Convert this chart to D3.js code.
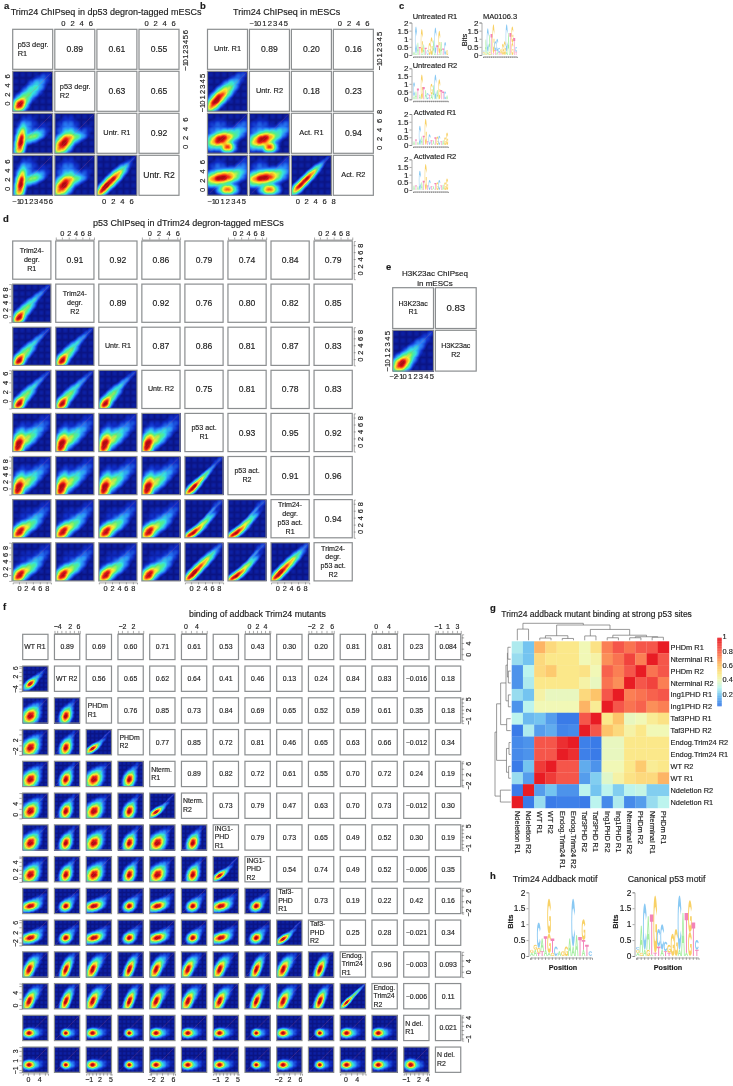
<!DOCTYPE html>
<html lang="en">
  <head>
    <meta charset="UTF-8" />
    <title>Trim24 ChIPseq figure</title>
    <style>
      html,
      body {
        margin: 0;
        background: #fff;
      }

      #wrap {
        position: relative;
        width: 733px;
        height: 1086px;
        overflow: hidden;
      }

      canvas,
      svg {
        position: absolute;
        left: 0;
        top: 0;
      }

      text {
        font-family: "Liberation Sans", Arial, sans-serif;
        fill: #1a1a1a;
        stroke: #1a1a1a;
        stroke-width: 0.15;
      }

      .frame {
        fill: none;
        stroke: #8b8e90;
        stroke-width: 1.2;
      }

      .axis path,
      .axis line {
        stroke: #555;
        stroke-width: 0.5;
      }
    </style>
    <script src="https://cdn.jsdelivr.net/npm/d3@7"></script>
  </head>
  <body>
    <div id="wrap">
      <canvas id="dens" width="733" height="1086"></canvas>
      <svg id="fig" width="733" height="1086"></svg>
    </div>
    <script>
      // ---- panel a ----
      const aLabels = ["p53 degr.\nR1", "p53 degr.\nR2", "Untr. R1", "Untr. R2"];
      const aValues = [["0.89", "0.61", "0.55"], ["0.63", "0.65"], ["0.92"]];
      const aTicks = [[-1, 0, 1, 2, 3, 4, 5, 6], [0, 2, 4, 6], [0, 2, 4, 6], [0, 2, 4, 6]];
      const aDomains = [[-1.7, 6.5], [-1.8, 7], [-1.5, 7.3], [-1.55, 7.3]];

      // ---- panel b ----
      const bLabels = ["Untr. R1", "Untr. R2", "Act. R1", "Act. R2"];
      const bValues = [["0.89", "0.20", "0.16"], ["0.18", "0.23"], ["0.94"]];
      const bTicks = [[-1, 0, 1, 2, 3, 4, 5], [-1, 0, 1, 2, 3, 4, 5], [0, 2, 4, 6, 8], [0, 2, 4, 6]];
      const bDomains = [[-1.7, 5.75], [-1.7, 5.75], [-1.3, 7.6], [-1.3, 7.4]];

      // ---- panel d ----
      const dLabels = [
        "Trim24-\ndegr.\nR1", "Trim24-\ndegr.\nR2", "Untr. R1", "Untr. R2",
        "p53 act.\nR1", "p53 act.\nR2", "Trim24-\ndegr.\np53 act.\nR1", "Trim24-\ndegr.\np53 act.\nR2",
      ];
      const dValues = [
        ["0.91", "0.92", "0.86", "0.79", "0.74", "0.84", "0.79"],
        ["0.89", "0.92", "0.76", "0.80", "0.82", "0.85"],
        ["0.87", "0.86", "0.81", "0.87", "0.83"],
        ["0.75", "0.81", "0.78", "0.83"],
        ["0.93", "0.95", "0.92"],
        ["0.91", "0.96"],
        ["0.94"],
      ];
      const dTicks = [[0, 2, 4, 6, 8], [0, 2, 4, 6, 8], [0, 2, 4, 6, 8], [0, 2, 4, 6], [0, 2, 4, 6, 8], [0, 2, 4, 6, 8], [0, 2, 4, 6, 8], [0, 2, 4, 6, 8]];
      const dDomains = [[-1.8, 9.2], [-1.8, 9.4], [-1.8, 9.2], [-1.6, 6.6], [-1.8, 9.2], [-1.8, 9.2], [-1.8, 9.2], [-1.7, 9.4]];

      // ---- panel e ----
      const eLabels = ["H3K23ac\nR1", "H3K23ac\nR2"];
      const eValues = [["0.83"]];
      const eTicks = [[-2, -1, 0, 1, 2, 3, 4, 5], [-1, 0, 1, 2, 3, 4, 5]];
      const eDomains = [[-2.1, 5.4], [-1.8, 5.4]];

      // ---- panel f ----
      const fLabels = [
        "WT R1", "WT R2", "PHDm\nR1", "PHDm\nR2", "Nterm.\nR1", "Nterm.\nR2", "ING1-\nPHD\nR1",
        "ING1-\nPHD\nR2", "Taf3-\nPHD\nR1", "Taf3-\nPHD\nR2", "Endog.\nTrim24\nR1", "Endog.\nTrim24\nR2", "N del.\nR1", "N del.\nR2",
      ];
      const fValues = [
        ["0.89", "0.69", "0.60", "0.71", "0.61", "0.53", "0.43", "0.30", "0.20", "0.81", "0.81", "0.23", "0.084"],
        ["0.56", "0.65", "0.62", "0.64", "0.41", "0.46", "0.13", "0.24", "0.84", "0.83", "−0.016", "0.18"],
        ["0.76", "0.85", "0.73", "0.84", "0.69", "0.65", "0.52", "0.59", "0.61", "0.35", "0.18"],
        ["0.77", "0.85", "0.72", "0.81", "0.46", "0.65", "0.63", "0.66", "−0.012", "0.34"],
        ["0.89", "0.82", "0.72", "0.61", "0.55", "0.70", "0.72", "0.24", "0.19"],
        ["0.73", "0.79", "0.47", "0.63", "0.70", "0.73", "−0.012", "0.30"],
        ["0.79", "0.73", "0.65", "0.49", "0.52", "0.30", "0.19"],
        ["0.54", "0.74", "0.49", "0.52", "−0.006", "0.35"],
        ["0.73", "0.19", "0.22", "0.42", "0.16"],
        ["0.25", "0.28", "−0.021", "0.34"],
        ["0.96", "−0.003", "0.093"],
        ["−0.006", "0.11"],
        ["0.021"],
      ];
      const fTicks = [
        [0, 2, 4, 6], [-4, -2, 0, 2, 4, 6], [-1, 0, 1, 2, 3, 4, 5], [-2, 0, 2, 4], [-2, 0, 2, 4, 6], [0, 2, 4, 6],
        [-1, 0, 1, 2, 3, 4, 5], [0, 1, 2, 3, 4, 5], [-2, 0, 2, 4, 6], [-2, 0, 2, 4, 6], [0, 2, 4, 6], [0, 2, 4, 6],
        [-1, 0, 1, 2, 3, 4], [-1, 0, 1, 2, 3],
      ];
      const fTickText = [[0, 4], [-4, 2, 6], [-1, 2, 5], [-2, 2], [-2, 2, 6], [0, 4], [-1, 2, 5], [0, 2, 4], [-2, 2, 6], [-2, 2, 6], [0, 4], [0, 4], [-1, 2, 4], [-1, 1, 3]];
      const fDomains = [
        [-1.9, 7.1], [-5.3, 6.8], [-1.7, 5.3], [-3.45, 5.75], [-2.5, 6.7], [-1.45, 7.75], [-1.7, 5.3],
        [-1, 5.3], [-2.5, 6.7], [-3.1, 6.85], [-1.9, 7.1], [-1.2, 6.8], [-1.5, 4.5], [-1.5, 3.8],
      ];

      // density clouds: [u, v, long sd, short sd, angle, weight]
      const shapes = {
        aRep: [[0.18, 0.17, 0.05, 0.035, 50, 1], [0.32, 0.35, 0.1, 0.05, 45, 0.12], [0.55, 0.58, 0.1, 0.06, 45, 0.05], [0.72, 0.76, 0.1, 0.05, 45, 0.006]],
        aX1: [[0.2, 0.28, 0.09, 0.028, 80, 1], [0.5, 0.42, 0.09, 0.04, 20, 0.15], [0.32, 0.6, 0.12, 0.08, 60, 0.012], [0.7, 0.6, 0.12, 0.06, 30, 0.002]],
        aX2: [[0.22, 0.25, 0.08, 0.042, 50, 1], [0.42, 0.38, 0.1, 0.04, 15, 0.15], [0.3, 0.58, 0.12, 0.09, 70, 0.012], [0.7, 0.55, 0.12, 0.05, 30, 0.002]],
        aDiag: [[0.18, 0.18, 0.07, 0.024, 50, 0.9], [0.38, 0.38, 0.1, 0.028, 45, 0.8], [0.6, 0.6, 0.1, 0.025, 45, 0.03], [0.8, 0.82, 0.1, 0.02, 45, 0.002]],
        bRep: [[0.2, 0.25, 0.08, 0.032, 50, 0.9], [0.35, 0.4, 0.1, 0.04, 45, 0.4], [0.55, 0.6, 0.1, 0.05, 45, 0.05], [0.75, 0.8, 0.12, 0.05, 45, 0.005]],
        bX1: [[0.33, 0.35, 0.08, 0.042, 20, 1], [0.5, 0.16, 0.04, 0.03, 0, 0.7], [0.6, 0.42, 0.14, 0.05, 30, 0.08], [0.8, 0.65, 0.12, 0.05, 40, 0.006], [0.25, 0.55, 0.12, 0.1, 60, 0.008]],
        bX2: [[0.35, 0.44, 0.1, 0.04, 10, 1], [0.5, 0.15, 0.05, 0.03, 0, 0.6], [0.65, 0.5, 0.12, 0.05, 30, 0.08], [0.85, 0.75, 0.1, 0.05, 45, 0.004], [0.25, 0.65, 0.1, 0.08, 60, 0.006]],
        bDiag: [[0.17, 0.2, 0.05, 0.024, 45, 0.5], [0.35, 0.38, 0.1, 0.022, 45, 0.9], [0.55, 0.58, 0.1, 0.024, 45, 0.08], [0.78, 0.82, 0.12, 0.02, 45, 0.003]],
        dRep: [[0.17, 0.13, 0.05, 0.03, 55, 1], [0.33, 0.33, 0.1, 0.04, 47, 0.16], [0.55, 0.58, 0.12, 0.03, 45, 0.03], [0.8, 0.82, 0.12, 0.03, 45, 0.003]],
        dAct: [[0.15, 0.18, 0.08, 0.036, 75, 1], [0.32, 0.3, 0.11, 0.05, 35, 0.22], [0.55, 0.5, 0.15, 0.06, 35, 0.025], [0.3, 0.55, 0.14, 0.11, 50, 0.0015], [0.8, 0.8, 0.12, 0.07, 40, 0.0015]],
        dFlat: [[0.18, 0.15, 0.06, 0.036, 50, 0.9], [0.35, 0.28, 0.11, 0.045, 30, 0.2], [0.58, 0.5, 0.15, 0.05, 38, 0.02], [0.35, 0.55, 0.15, 0.11, 50, 0.0012], [0.8, 0.8, 0.12, 0.06, 40, 0.0015]],
        dT1: [[0.2, 0.17, 0.07, 0.022, 45, 1], [0.38, 0.36, 0.1, 0.02, 45, 0.3], [0.6, 0.6, 0.1, 0.02, 45, 0.02], [0.85, 0.87, 0.1, 0.03, 45, 0.003]],
        dT2: [[0.2, 0.12, 0.08, 0.022, 35, 0.9], [0.42, 0.32, 0.12, 0.024, 42, 0.25], [0.62, 0.6, 0.12, 0.02, 50, 0.02], [0.85, 0.87, 0.1, 0.04, 45, 0.003]],
        dT3: [[0.2, 0.17, 0.08, 0.024, 45, 0.9], [0.4, 0.38, 0.12, 0.025, 45, 0.5], [0.62, 0.62, 0.12, 0.02, 45, 0.02], [0.85, 0.87, 0.1, 0.03, 45, 0.003]],
        e: [[0.22, 0.18, 0.06, 0.04, 40, 1], [0.38, 0.35, 0.1, 0.05, 45, 0.15], [0.6, 0.6, 0.12, 0.05, 45, 0.015], [0.85, 0.85, 0.12, 0.04, 45, 0.002]],
        R: [[0.3, 0.3, 0.06, 0.03, 40, 1], [0.5, 0.5, 0.12, 0.04, 40, 0.03], [0.75, 0.75, 0.1, 0.03, 40, 0.002]],
        W: [[0.3, 0.28, 0.08, 0.06, 50, 1], [0.45, 0.5, 0.12, 0.07, 55, 0.04], [0.7, 0.75, 0.1, 0.05, 50, 0.002]],
        N: [[0.45, 0.28, 0.07, 0.045, 70, 1], [0.55, 0.5, 0.11, 0.05, 65, 0.04], [0.72, 0.8, 0.1, 0.04, 60, 0.002]],
        F: [[0.25, 0.25, 0.07, 0.026, 35, 1], [0.5, 0.45, 0.12, 0.03, 40, 0.02], [0.8, 0.8, 0.1, 0.025, 42, 0.002]],
        T: [[0.3, 0.3, 0.08, 0.04, 15, 1], [0.5, 0.45, 0.12, 0.06, 30, 0.03], [0.75, 0.65, 0.1, 0.05, 30, 0.002]],
        Tn: [[0.45, 0.3, 0.05, 0.04, 30, 1], [0.55, 0.45, 0.11, 0.06, 35, 0.03], [0.78, 0.68, 0.1, 0.05, 35, 0.002]],
        E: [[0.25, 0.3, 0.09, 0.04, 65, 1], [0.42, 0.55, 0.12, 0.07, 55, 0.05], [0.65, 0.8, 0.1, 0.05, 45, 0.002]],
        En: [[0.45, 0.3, 0.09, 0.035, 68, 1], [0.55, 0.55, 0.12, 0.06, 60, 0.04], [0.72, 0.82, 0.1, 0.04, 55, 0.002]],
        D: [[0.25, 0.3, 0.05, 0.035, 5, 1], [0.4, 0.3, 0.1, 0.06, 5, 0.05], [0.6, 0.35, 0.14, 0.08, 5, 0.002]],
        Dn: [[0.45, 0.3, 0.035, 0.03, 0, 1], [0.55, 0.3, 0.09, 0.06, 0, 0.03], [0.7, 0.35, 0.12, 0.07, 0, 0.002]],
        S: [[0.25, 0.25, 0.07, 0.02, 45, 1], [0.5, 0.5, 0.15, 0.02, 45, 0.15], [0.8, 0.8, 0.12, 0.015, 45, 0.003]],
        O: [[0.28, 0.3, 0.05, 0.04, 0, 1], [0.45, 0.3, 0.12, 0.07, 0, 0.02]],
      };

      // which cloud sits in which lower panel, row by row
      const aCells = [["aRep"], ["aX1", "aX2"], ["aX1", "aX2", "aDiag"]];
      const bCells = [["bRep"], ["bX1", "bX1"], ["bX2", "bX2", "bDiag"]];
      const dCells = [
        ["dRep"],
        ["dRep", "dRep"],
        ["dRep", "dRep", "dRep"],
        ["dAct", "dAct", "dAct", "dAct"],
        ["dAct", "dAct", "dAct", "dAct", "dT1"],
        ["dFlat", "dFlat", "dFlat", "dFlat", "dT2", "dT2"],
        ["dFlat", "dFlat", "dFlat", "dFlat", "dT3", "dT2", "dT3"],
      ];
      const eCells = [["e"]];
      const fCells = [
        ["R"],
        ["W", "N"],
        ["W", "N", "F"],
        ["W", "N", "W", "N"],
        ["W", "N", "W", "N", "F"],
        ["W", "N", "W", "N", "W", "N"],
        ["W", "N", "W", "N", "W", "N", "F"],
        ["T", "Tn", "T", "Tn", "T", "Tn", "T", "Tn"],
        ["T", "Tn", "T", "Tn", "T", "Tn", "T", "Tn", "F"],
        ["E", "En", "E", "En", "E", "E", "E", "En", "E", "En"],
        ["E", "En", "E", "En", "E", "E", "E", "En", "E", "En", "S"],
        ["D", "Dn", "D", "Dn", "D", "D", "D", "Dn", "D", "Dn", "D", "D"],
        ["D", "Dn", "D", "Dn", "D", "D", "D", "Dn", "D", "Dn", "D", "D", "O"],
      ];

      // ---- panel g ----
      const gRows = [
        "PHDm R1", "Nterminal R1", "PHDm R2", "Nterminal R2", "Ing1PHD R1", "Ing1PHD R2", "Taf3PHD R1",
        "Taf3PHD R2", "Endog.Trim24 R2", "Endog.Trim24 R1", "WT R2", "WT R1", "Ndeletion R2", "Ndeletion R1",
      ];
      const gCols = gRows.slice().reverse();
      const gMatrix = [
        [0.28, 0.2, 0.65, 0.55, 0.5, 0.5, 0.42, 0.52, 0.75, 0.85, 0.78, 0.85, 0.85, 1],
        [0.25, 0.2, 0.55, 0.5, 0.5, 0.5, 0.42, 0.45, 0.72, 0.78, 0.9, 0.75, 1, 0.85],
        [0.1, 0.3, 0.55, 0.6, 0.5, 0.5, 0.52, 0.42, 0.82, 0.75, 0.85, 1, 0.78, 0.85],
        [0.1, 0.28, 0.5, 0.5, 0.5, 0.5, 0.45, 0.4, 0.78, 0.72, 1, 0.85, 0.9, 0.75],
        [0.25, 0.2, 0.45, 0.4, 0.4, 0.4, 0.55, 0.62, 0.85, 1, 0.75, 0.78, 0.82, 0.85],
        [0.1, 0.3, 0.42, 0.42, 0.42, 0.42, 0.65, 0.48, 1, 0.85, 0.78, 0.82, 0.72, 0.75],
        [0.3, 0.18, 0.2, 0.12, 0.05, 0.05, 0.85, 1, 0.5, 0.62, 0.4, 0.42, 0.48, 0.52],
        [0.05, 0.28, 0.12, 0.15, 0.07, 0.08, 1, 0.85, 0.62, 0.55, 0.45, 0.5, 0.42, 0.42],
        [0.08, 0.1, 0.85, 0.85, 0.95, 1, 0.06, 0.05, 0.4, 0.4, 0.5, 0.5, 0.5, 0.5],
        [0.08, 0.1, 0.85, 0.85, 1, 0.95, 0.06, 0.05, 0.4, 0.4, 0.5, 0.5, 0.5, 0.5],
        [0.05, 0.2, 0.92, 1, 0.85, 0.85, 0.15, 0.1, 0.42, 0.42, 0.5, 0.6, 0.48, 0.5],
        [0.25, 0.12, 1, 0.92, 0.85, 0.85, 0.12, 0.22, 0.38, 0.45, 0.52, 0.55, 0.55, 0.65],
        [0.05, 1, 0.12, 0.2, 0.1, 0.1, 0.3, 0.2, 0.3, 0.22, 0.3, 0.32, 0.22, 0.22],
        [1, 0.05, 0.25, 0.05, 0.06, 0.06, 0.05, 0.3, 0.08, 0.28, 0.08, 0.12, 0.25, 0.3],
      ];
      const gBarTicks = [0.2, 0.4, 0.6, 0.8, 1];
      // merge tree over the column order: [height, left, right], leaves are column indexes
      const gTree = [16.7, [11, 0, 1], [15, [4.5, [2.2, 2, 3], [1.8, 4, 5]], [10.7, [4.3, 6, 7], [5, [2.5, 8, 9], [3.5, [2.5, 10, 11], [3, 12, 13]]]]]];

      // ---- motifs, one string per position, letter then bits from the bottom up ----
      const untreatedR1 = ["A.2", "A.1 C1.65", "A.75", "T.5", "A.1 G1.5", "A.65", "T.45", "C.3", "G.75", "G1.1", "A.9", "A.1 C1.6", "T.6", "A.1 G1.4", "A.8", "T.4", "C.8", "G.3"];
      const untreatedR2 = ["A.2 C.9", "A.5", "T.7", "A.3", "G1.6", "T.8", "A.6", "C.4", "T.3", "A.3 G.7", "A.9", "C1.6", "A.6", "G1.3", "T.6", "T.5", "C.5", "A.25"];
      const activatedR1 = ["A.25", "T.35", "A.2", "C1.25", "A.55", "T.6", "G1.7", "T.25", "C.7", "T.3", "A.3", "T.5", "G.55", "C.6", "T.25", "A.3", "G.5", "G.8"];
      const activatedR2 = ["A.3", "T.3", "A.25", "C1.25", "A.5", "T.6", "G1.7", "T.3", "C.65", "T.25", "A.25", "T.45", "G.5", "C.65", "T.3", "A.35", "G.5", "G.75"];
      const canonical = ["A.1 G.1 C.08", "G.1 A.85", "A.2 C1.45", "G.2 A1.05", "A.05 T1.25", "T.1 G1.8", "T.3 C.55", "A.2 C.8", "T.15 C.3", "T.1 G.25", "G.7", "G.85", "A.2 C1.7", "A1.35", "A.1 T1.25", "G.75 G1", "T1.05", "T.2 C.3"];
      const addback = ["A.1 G.1", "A.2 G.15", "T.1 G.15 C.8", "T.15 A.4", "A.2 T.42", "A.1 G.6 G1.1", "G.1 T.45", "C.3", "A.15", "G.15", "G.3", "A.55", "A.3 C1.5", "A.65", "T.6", "A.2 T.3 G.65", "T.35", "C.15"];
      const logoPositions = d3.range(1, 19);
      const bitTicks = [0, 0.5, 1, 1.5, 2];

      const svg = d3.select("#fig");
      const ctx = document.getElementById("dens").getContext("2d");

      // smoothScatter style colours on the fourth root of density
      const jet = d3
        .scaleLinear()
        .domain([0, 0.1, 0.25, 0.4, 0.55, 0.7, 0.82, 0.92, 1])
        .range(["#0a1484", "#0f2cc4", "#2a84fa", "#35e0e0", "#5cf07a", "#f5f032", "#ff9a1e", "#f02018", "#b00a10"])
        .clamp(true);

      function density(cloud, u, v) {
        let sum = 0;
        cloud.forEach(([cu, cv, sl, ss, angle, w]) => {
          const a = (angle * Math.PI) / 180;
          const du = u - cu;
          const dv = v - cv;
          const p = du * Math.cos(a) + dv * Math.sin(a);
          const q = -du * Math.sin(a) + dv * Math.cos(a);
          // strong parts of a cloud are wider than the thin tails
          const m = 1.2 + 0.6 * Math.min(1, w * 2);
          sum += w * Math.exp((-0.5 * (p * p / (sl * sl) + q * q / (ss * ss))) / (m * m));
        });
        return sum;
      }

      function drawCloud(cloud, x, y) {
        const [x0, x1] = x.range();
        const [y1, y0] = y.range();
        for (let px = Math.round(x0); px < x1; px++) {
          for (let py = Math.round(y0); py < y1; py++) {
            const u = (px + 0.5 - x0) / (x1 - x0);
            const v = (y1 - py - 0.5) / (y1 - y0);
            // faint bin lattice of the scatter background
            const lattice = 0.05 * Math.abs(Math.sin(Math.PI * u * 6) * Math.sin(Math.PI * v * 6));
            const t = (Math.pow(density(cloud, u, v), 0.25) - 0.12) / 0.88;
            ctx.fillStyle = jet(Math.max(t, 0) + lattice);
            ctx.fillRect(px, py, 1, 1);
          }
        }
      }

      function multiline(g, str, x, y, size, anchor) {
        const lines = str.split("\n");
        const lh = size * 1.24;
        const top = y - ((lines.length - 1) * lh) / 2;
        lines.forEach((line, i) => {
          g.append("text")
            .attr("x", x)
            .attr("y", top + i * lh)
            .attr("dy", "0.35em")
            .attr("text-anchor", anchor)
            .attr("font-size", size)
            .text(line);
        });
      }

      function pairs(o) {
        const n = o.labels.length;
        const g = svg.append("g");
        const px = d3.range(n).map((i) => o.x + i * o.stepX);
        const py = d3.range(n).map((i) => o.y + i * o.stepY);
        const fmt = (d) => String(d).replace("-", "−");

        d3.range(n).forEach((r) => {
          d3.range(n).forEach((c) => {
            const x = d3.scaleLinear().domain(o.domains[c]).range([px[c], px[c] + o.size]);
            const y = d3.scaleLinear().domain(o.domains[r]).range([py[r] + o.size, py[r]]);
            if (r > c) {
              drawCloud(shapes[o.cells[r - 1][c]], x, y);
              g.append("line")
                .attr("x1", x.range()[0] + o.size * 0.05)
                .attr("y1", y.range()[0] - o.size * 0.05)
                .attr("x2", x.range()[1])
                .attr("y2", y.range()[1])
                .attr("stroke", "#e0607a")
                .attr("stroke-width", 0.5)
                .attr("opacity", 0.4);
            } else if (r === c) {
              const anchor = o.labelAnchor(r);
              const tx = anchor === "start" ? px[c] + o.labelInset(r) : px[c] + o.size / 2;
              multiline(g, o.labels[r], tx, py[r] + o.size / 2 - 0.5, o.labelSize(r), anchor);
            } else {
              multiline(g, o.values[r][c - r - 1], px[c] + o.size / 2, py[r] + o.size / 2, o.valueSize, "middle");
            }
            g.append("rect")
              .attr("class", "frame")
              .attr("x", px[c])
              .attr("y", py[r])
              .attr("width", o.size)
              .attr("height", o.size);
          });
        });

        // axes alternate around the matrix the way pairs() does it
        const tf = (i) => (d) => (o.tickText && !o.tickText[i].includes(d) ? "" : fmt(d));
        d3.range(n).forEach((i) => {
          const x = d3.scaleLinear().domain(o.domains[i]).range([px[i], px[i] + o.size]);
          const y = d3.scaleLinear().domain(o.domains[i]).range([py[i] + o.size, py[i]]);
          const atLeft = i % 2 === 1;
          const horiz = atLeft ? d3.axisTop(x) : d3.axisBottom(x);
          const horizY = atLeft ? py[0] - o.gap : py[n - 1] + o.size + o.gap;
          const vert = atLeft ? d3.axisLeft(y) : d3.axisRight(y);
          const vertX = atLeft ? px[0] - o.gap : px[n - 1] + o.size + o.gap;
          const axes = [];

          // panel e only carries the bottom and left axes
          if (!o.bottomLeftOnly || !atLeft) {
            horiz.tickValues(o.ticks[i]).tickFormat(tf(i)).tickSize(o.tickSize).tickPadding(o.tickPad);
            const hg = g.append("g").attr("class", "axis").attr("transform", `translate(0,${horizY})`).call(horiz);
            hg.selectAll("text").attr("font-size", o.tickFont).attr("font-family", "Liberation Sans").style("fill", "#1a1a1a");
            axes.push(hg);
          }
          if (!o.bottomLeftOnly || atLeft) {
            vert.tickValues(o.ticks[i]).tickFormat(tf(i)).tickSize(o.tickSize).tickPadding(0);
            const vg = g.append("g").attr("class", "axis").attr("transform", `translate(${vertX},0)`).call(vert);
            vg.selectAll("text")
              .attr("font-size", o.tickFont)
              .attr("font-family", "Liberation Sans")
              .style("fill", "#1a1a1a")
              .attr("text-anchor", "middle")
              .attr("x", 0)
              .attr("dy", 0)
              .attr("y", atLeft ? -(o.tickSize + o.tickPad) : o.tickSize + o.tickPad + o.tickFont * 0.75)
              .attr("transform", "rotate(-90)");
            axes.push(vg);
          }
          if (!o.marks) axes.forEach((a) => a.selectAll("path,line").remove());
        });
      }

      const left = () => "start";
      const mid = () => "middle";

      pairs({
        x: 12.7, y: 29.3, stepX: 42.1, stepY: 42, size: 40, labels: aLabels, values: aValues, cells: aCells,
        ticks: aTicks, domains: aDomains, valueSize: 8.6, tickFont: 7.6, tickSize: 0, tickPad: 2.5, gap: 0.5, marks: false,
        labelAnchor: (i) => (i < 2 ? "start" : "middle"), labelInset: () => 5, labelSize: (i) => (i === 3 ? 8.6 : 7.4),
      });
      pairs({
        x: 207.5, y: 29.3, stepX: 41.95, stepY: 42, size: 40, labels: bLabels, values: bValues, cells: bCells,
        ticks: bTicks, domains: bDomains, valueSize: 8.6, tickFont: 7.6, tickSize: 0, tickPad: 2.5, gap: 0.5, marks: false,
        labelAnchor: mid, labelInset: () => 0, labelSize: () => 7.4,
      });
      pairs({
        x: 12.7, y: 241, stepX: 43.05, stepY: 43.1, size: 38.2, labels: dLabels, values: dValues, cells: dCells,
        ticks: dTicks, domains: dDomains, valueSize: 8.6, tickFont: 7.4, tickSize: 2, tickPad: 1.5, gap: 1.5, marks: true,
        labelAnchor: mid, labelInset: () => 0, labelSize: () => 7.1,
      });
      pairs({
        x: 392.7, y: 287.7, stepX: 42.7, stepY: 42.6, size: 40.8, labels: eLabels, values: eValues, cells: eCells,
        ticks: eTicks, domains: eDomains, valueSize: 9.6, tickFont: 7.6, tickSize: 0, tickPad: 2, gap: 0.5, marks: false,
        labelAnchor: mid, labelInset: () => 0, labelSize: () => 7.1, bottomLeftOnly: true,
      });
      pairs({
        x: 22.7, y: 634.3, stepX: 31.75, stepY: 31.75, size: 25.3, labels: fLabels, values: fValues, cells: fCells,
        ticks: fTicks, tickText: fTickText, domains: fDomains, valueSize: 6.9, tickFont: 7, tickSize: 2.4, tickPad: 1.5, gap: 1, marks: true,
        labelAnchor: left, labelInset: () => 1.5, labelSize: () => 6.9,
      });

      // sequence logos, letters are drawn as small outlines in a unit box
      const glyphs = {
        A: "M0 0L.38 1H.62L1 0H.76L.66 .3H.34L.24 0ZM.41 .47H.59L.5 .76Z",
        C: "M1 .25Q.8 0 .52 0Q0 0 0 .5Q0 1 .52 1Q.8 1 1 .75L.8 .64Q.7 .8 .52 .8Q.24 .8 .24 .5Q.24 .2 .52 .2Q.7 .2 .8 .36Z",
        G: "M1 .5V.1Q.8 0 .52 0Q0 0 0 .5Q0 1 .52 1Q.8 1 1 .75L.8 .64Q.7 .8 .52 .8Q.24 .8 .24 .5Q.24 .2 .52 .2Q.66 .2 .78 .26V.36H.55V.5Z",
        T: "M0 1H1V.82H.63V0H.37V.82H0Z",
      };
      const letterColor = { A: "#8fe98a", C: "#6cbcf0", G: "#f6c63e", T: "#f064a6" };

      function logo(o) {
        const g = svg.append("g");
        const x = d3.scaleBand().domain(logoPositions).range([o.x0, o.x1]);
        const y = d3.scaleLinear().domain([0, 2]).range([o.base, o.top]);
        const wide = x.bandwidth() * 1.05;
        o.motif.forEach((col, i) => {
          let acc = 0;
          col.split(" ").forEach((item) => {
            const bits = +item.slice(1);
            g.append("path")
              .attr("d", glyphs[item[0]])
              .attr("fill", letterColor[item[0]])
              .attr("fill-rule", "evenodd")
              .attr("opacity", 0.8)
              .attr("transform", `translate(${x(logoPositions[i])},${y(acc)}) scale(${wide},${y(0) - y(bits)}) scale(1,-1)`);
            acc += bits;
          });
        });
        const ya = g
          .append("g")
          .attr("class", "axis")
          .attr("transform", `translate(${o.x0 - 1.5},0)`)
          .call(d3.axisLeft(y).tickValues(bitTicks).tickFormat(String).tickSize(2).tickPadding(1));
        ya.selectAll("text").attr("font-size", o.font).attr("font-family", "Liberation Sans").style("fill", "#1a1a1a");
        const xa = g
          .append("g")
          .attr("class", "axis")
          .attr("transform", `translate(0,${o.base + 1.5})`)
          .call(d3.axisBottom(x).tickSize(o.xTick).tickFormat(""));
        xa.selectAll("text").remove();
      }

      function label(txt, x, y, size, opts = {}) {
        const t = svg
          .append("text")
          .attr("x", x)
          .attr("y", y)
          .attr("dy", "0.35em")
          .attr("font-size", size)
          .attr("text-anchor", opts.anchor || "start")
          .attr("font-weight", opts.weight || "normal")
          .text(txt);
        if (opts.rotate) t.attr("transform", `rotate(${opts.rotate},${x},${y})`);
        return t;
      }

      logo({ motif: untreatedR1, x0: 413, x1: 448, top: 22.5, base: 55, font: 8, xTick: 1.5 });
      logo({ motif: untreatedR2, x0: 413, x1: 448, top: 68.3, base: 99.3, font: 8, xTick: 1.5 });
      logo({ motif: activatedR1, x0: 413, x1: 448, top: 114, base: 145, font: 8, xTick: 1.5 });
      logo({ motif: activatedR2, x0: 413, x1: 448, top: 159.3, base: 190, font: 8, xTick: 1.5 });
      logo({ motif: canonical, x0: 483, x1: 517, top: 22.5, base: 55, font: 8, xTick: 1.5 });
      logo({ motif: addback, x0: 530, x1: 592, top: 892.3, base: 956, font: 8.4, xTick: 2.5 });
      logo({ motif: canonical, x0: 636, x1: 698.5, top: 892.3, base: 956, font: 8.4, xTick: 2.5 });

      // heatmap g
      const gx = d3.scaleBand().domain(gCols).range([511.7, 669]);
      const gy = d3.scaleBand().domain(gRows).range([641.3, 808]);
      const heat = d3
        .scaleLinear()
        .domain([0.05, 0.2, 0.3, 0.42, 0.5, 0.62, 0.75, 0.85, 1])
        .range(["#3a7be8", "#74c4f0", "#bcf4ee", "#f1f8b6", "#fbe88a", "#fdc46a", "#fb7f54", "#f5564a", "#e81c24"]);

      svg
        .append("g")
        .selectAll("g")
        .data(gMatrix)
        .join("g")
        .each(function (row, r) {
          d3.select(this)
            .selectAll("rect")
            .data(row)
            .join("rect")
            .attr("x", (d, c) => gx(gCols[c]))
            .attr("y", gy(gRows[r]))
            .attr("width", gx.bandwidth() + 0.2)
            .attr("height", gy.bandwidth() + 0.2)
            .attr("fill", (d) => heat(d));
        });
      gRows.forEach((name) => label(name, 670.5, gy(name) + gy.bandwidth() / 2, 7.4));
      gCols.forEach((name) => {
        const xc = gx(name) + gx.bandwidth() / 2;
        label(name, xc, 811, 7.4, { rotate: 90 });
      });

      // colour bar
      const barY = d3.scaleLinear().domain([0.05, 1]).range([706, 637.7]);
      svg
        .append("g")
        .selectAll("rect")
        .data(d3.range(0.05, 1, 0.01))
        .join("rect")
        .attr("x", 717.3)
        .attr("y", (d) => barY(d + 0.01))
        .attr("width", 4.4)
        .attr("height", (d) => barY(d) - barY(d + 0.01) + 0.3)
        .attr("fill", (d) => heat(d));
      gBarTicks.forEach((v) => label(String(v), 722.5, barY(v) - 1, 7.4));

      // dendrograms, same tree on both sides
      const tree = d3.hierarchy(gTree, (d) => (Array.isArray(d) ? d.slice(1) : null));
      const hMax = gTree[0];
      const topH = d3.scaleLinear().domain([0, hMax]).range([640.3, 623.3]);
      const leftH = d3.scaleLinear().domain([0, hMax]).range([510.7, 495]);
      const colCenter = (i) => gx(gCols[i]) + gx.bandwidth() / 2;
      const rowCenter = (i) => gy(gCols[i]) + gy.bandwidth() / 2;
      const dendro = svg.append("g").attr("fill", "none").attr("stroke", "#6e6e6e").attr("stroke-width", 0.7);

      tree.eachAfter((node) => {
        node.hgt = node.children ? node.data[0] : 0;
        node.colX = node.children ? d3.mean(node.children, (c) => c.colX) : colCenter(node.data);
        node.rowY = node.children ? d3.mean(node.children, (c) => c.rowY) : rowCenter(node.data);
        if (node.children) {
          const [a, b] = node.children;
          dendro
            .append("path")
            .attr("d", d3.line()([[a.colX, topH(a.hgt)], [a.colX, topH(node.hgt)], [b.colX, topH(node.hgt)], [b.colX, topH(b.hgt)]]));
          dendro
            .append("path")
            .attr("d", d3.line()([[leftH(a.hgt), a.rowY], [leftH(node.hgt), a.rowY], [leftH(node.hgt), b.rowY], [leftH(b.hgt), b.rowY]]));
        }
      });

      // titles and letters
      label("Trim24 ChIPseq in dp53 degron-tagged mESCs", 10.7, 12.3, 9);
      label("Trim24 ChIPseq in mESCs", 233, 12.3, 9);
      label("Untreated R1", 435, 16, 7.5, { anchor: "middle" });
      label("MA0106.3", 500, 16, 7.5, { anchor: "middle" });
      label("Untreated R2", 435, 65.7, 7.5, { anchor: "middle" });
      label("Activated R1", 435, 112.7, 7.5, { anchor: "middle" });
      label("Activated R2", 435, 156.7, 7.5, { anchor: "middle" });
      label("Bits", 464, 40, 7.5, { anchor: "middle", rotate: -90 });
      label("p53 ChIPseq in dTrim24 degron-tagged mESCs", 93, 222.7, 9);
      label("H3K23ac ChIPseq", 435, 273.3, 8, { anchor: "middle" });
      label("in mESCs", 435, 282.7, 8, { anchor: "middle" });
      label("binding of addback Trim24 mutants", 189, 614, 8.8);
      label("Trim24 addback mutant binding at strong p53 sites", 501.3, 614, 8.5);
      label("Trim24 Addback motif", 512.7, 879, 8.8);
      label("Canonical p53 motif", 627.7, 879, 8.8);
      label("Bits", 510, 921.7, 7.5, { anchor: "middle", rotate: -90, weight: "bold" });
      label("Bits", 615, 921.7, 7.5, { anchor: "middle", rotate: -90, weight: "bold" });
      label("Position", 563, 967.7, 7.2, { anchor: "middle", weight: "bold" });
      label("Position", 668, 967.7, 7.2, { anchor: "middle", weight: "bold" });

      const letters = [["a", 4, 6], ["b", 200, 6], ["c", 399, 6], ["d", 3, 219], ["e", 386, 267], ["f", 3, 607], ["g", 490, 608], ["h", 490, 876]];
      letters.forEach(([l, x, y]) => label(l, x, y, 9.5, { weight: "bold" }));
    </script>
  </body>
</html>
